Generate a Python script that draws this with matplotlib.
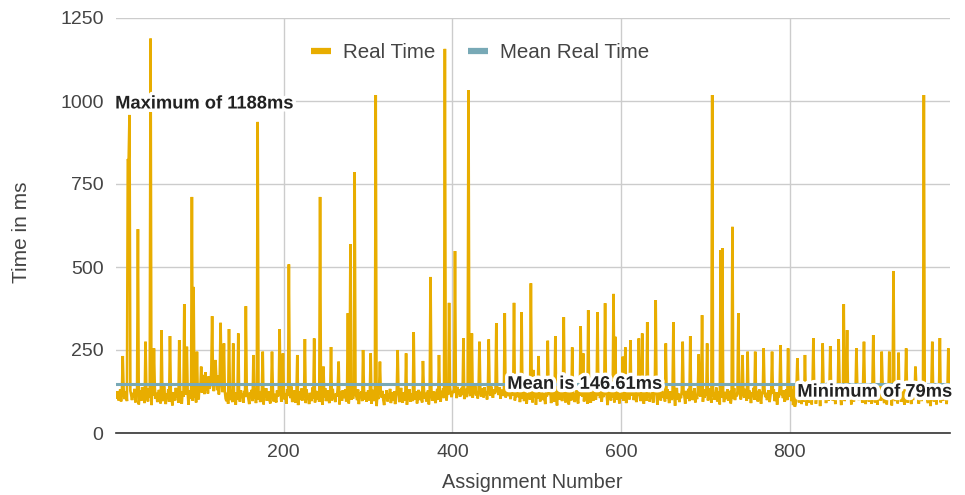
import numpy as np
import matplotlib
matplotlib.use("Agg")
import matplotlib.pyplot as plt
import matplotlib.patheffects as pe
from matplotlib.lines import Line2D

plt.rcParams['font.family'] = ['Liberation Sans', 'DejaVu Sans']

# ---------------- data ----------------
# baseline real time (ms) per assignment, 1..990
base_time = [
    118, 104, 126, 98, 112, 131, 95, 120, 108, 135,
    102, 117, 124, 96, 140, 109, 88, 127, 115, 99,
    121, 106, 133, 92, 118, 125, 101, 86, 129, 113,
    97, 138, 110, 122, 90, 116, 128, 104, 95, 134,
    107, 119, 84, 126, 112, 99, 137, 103, 121, 93,
    115, 130, 101, 89, 124, 108, 96, 141, 111, 87,
    120, 105, 132, 94, 117, 127, 100, 83, 123, 110,
    98, 136, 106, 119, 91, 114, 129, 102, 88, 125,
    109, 95, 133, 116, 99, 122, 85, 128, 112, 104,
    138, 97, 118, 107, 131, 92, 124, 113, 101, 145,
    132, 168, 121, 175, 140, 117, 183, 128, 162, 119,
    171, 133, 145, 188, 114, 166, 126, 179, 131, 160,
    129, 174, 116, 163, 142, 185, 123, 150, 108, 127,
    104, 96, 121, 88, 110, 132, 99, 115, 93, 126,
    107, 118, 85, 123, 101, 137, 112, 94, 129, 106,
    119, 91, 127, 108, 98, 134, 116, 103, 87, 122,
    111, 130, 96, 117, 105, 125, 90, 139, 109, 100,
    124, 93, 114, 131, 102, 86, 120, 107, 135, 97,
    113, 126, 99, 89, 121, 108, 133, 95, 118, 104,
    92, 128, 110, 123, 100, 136, 94, 115, 106, 127,
    101, 119, 88, 132, 111, 97, 125, 105, 140, 93,
    116, 103, 129, 91, 120, 109, 84, 126, 112, 99,
    134, 98, 117, 106, 123, 90, 131, 102, 114, 87,
    121, 108, 96, 137, 104, 118, 92, 127, 110, 100,
    125, 94, 113, 130, 99, 85, 122, 107, 135, 96,
    111, 128, 102, 90, 119, 124, 98, 133, 106, 115,
    93, 120, 109, 138, 101, 86, 126, 112, 97, 129,
    105, 117, 132, 95, 122, 108, 89, 127, 114, 100,
    136, 103, 118, 92, 124, 110, 99, 131, 87, 121,
    107, 126, 96, 115, 134, 101, 123, 94, 112, 128,
    98, 119, 105, 88, 130, 113, 96, 124, 109, 81,
    117, 102, 135, 92, 121, 107, 127, 99, 84, 116,
    110, 129, 95, 118, 104, 133, 90, 122, 106, 97,
    125, 87, 114, 131, 100, 119, 93, 108, 136, 103,
    91, 123, 111, 98, 127, 85, 116, 105, 132, 94,
    120, 108, 96, 134, 113, 101, 126, 89, 117, 130,
    99, 115, 124, 92, 110, 137, 104, 121, 95, 112,
    128, 86, 119, 106, 131, 97, 114, 125, 102, 90,
    118, 133, 100, 109, 122, 94, 127, 111, 135, 105,
    113, 124, 98, 130, 116, 103, 138, 119, 108, 126,
    121, 134, 112, 128, 105, 139, 117, 131, 109, 125,
    136, 114, 127, 102, 133, 120, 108, 142, 116, 129,
    111, 137, 123, 106, 130, 118, 141, 113, 126, 104,
    132, 119, 128, 110, 135, 122, 107, 138, 115, 124,
    101, 129, 117, 133, 112, 140, 120, 106, 131, 118,
    127, 109, 134, 121, 115, 138, 103, 125, 130, 112,
    119, 136, 107, 128, 122, 111, 139, 116, 102, 133,
    124, 113, 129, 98, 120, 135, 108, 117, 126, 93,
    115, 131, 104, 122, 96, 127, 110, 88, 119, 106,
    125, 100, 114, 132, 92, 118, 107, 129, 85, 121,
    103, 116, 128, 95, 112, 134, 99, 120, 108, 87,
    126, 110, 97, 123, 115, 131, 90, 118, 104, 136,
    94, 121, 109, 83, 127, 113, 100, 124, 117, 96,
    130, 105, 119, 92, 114, 128, 101, 86, 122, 111,
    98, 133, 107, 120, 93, 116, 129, 104, 89, 125,
    112, 99, 127, 110, 135, 95, 118, 106, 123, 88,
    117, 131, 102, 91, 124, 109, 97, 130, 114, 100,
    122, 86, 113, 128, 105, 119, 94, 126, 108, 132,
    96, 120, 111, 84, 129, 103, 117, 98, 134, 107,
    125, 92, 115, 121, 100, 137, 110, 89, 119, 104,
    128, 106, 97, 123, 114, 90, 131, 108, 118, 101,
    87, 124, 112, 135, 99, 116, 127, 93, 109, 120,
    105, 133, 96, 118, 125, 102, 88, 129, 111, 97,
    122, 108, 136, 94, 115, 104, 126, 91, 119, 130,
    100, 117, 85, 127, 110, 121, 98, 134, 106, 113,
    124, 95, 118, 103, 132, 109, 90, 125, 116, 99,
    128, 107, 114, 82, 121, 136, 101, 119, 93, 111,
    105, 130, 97, 123, 112, 88, 127, 104, 118, 133,
    96, 115, 108, 126, 99, 120, 135, 92, 113, 102,
    129, 87, 117, 110, 124, 101, 94, 131, 106, 119,
    112, 125, 98, 134, 104, 116, 91, 128, 109, 122,
    100, 119, 137, 95, 113, 126, 86, 121, 107, 130,
    118, 93, 111, 124, 102, 132, 97, 115, 127, 89,
    108, 120, 103, 135, 99, 117, 110, 126, 94, 123,
    114, 101, 129, 92, 118, 106, 133, 112, 97, 125,
    103, 128, 116, 90, 122, 109, 136, 100, 119, 111,
    127, 95, 113, 131, 104, 88, 124, 117, 98, 134,
    108, 121, 99, 115, 129, 93, 112, 126, 102, 118,
    132, 96, 110, 123, 85, 119, 107, 137, 101, 114,
    120, 105, 128, 94, 116, 131, 99, 111, 125, 110,
    142, 96, 131, 84, 148, 79, 89, 137, 101, 152,
    92, 126, 145, 87, 118, 139, 95, 150, 104, 83,
    134, 113, 91, 147, 122, 86, 141, 99, 128, 153,
    88, 119, 144, 102, 135, 81, 149, 116, 94, 138,
    107, 146, 90, 124, 151, 97, 133, 85, 143, 112,
    98, 140, 121, 87, 148, 106, 132, 93, 155, 115,
    84, 137, 109, 145, 96, 127, 150, 89, 118, 142,
    103, 131, 86, 149, 114, 95, 139, 125, 82, 147,
    120, 99, 144, 108, 136, 91, 153, 111, 129, 87,
    141, 105, 124, 94, 150, 117, 88, 138, 101, 146,
    92, 133, 119, 85, 147, 110, 140, 97, 126, 151,
    108, 90, 143, 122, 86, 135, 114, 149, 100, 128,
    83, 145, 107, 131, 96, 152, 118, 89, 139, 104,
    137, 94, 126, 148, 102, 85, 141, 115, 130, 91,
    150, 109, 121, 87, 144, 99, 134, 112, 93, 146,
    105, 138, 88, 127, 153, 96, 119, 142, 84, 131,
    113, 147, 100, 90, 136, 124, 81, 149, 108, 127,
    95, 140, 117, 86, 145, 103, 132, 150, 92, 121,
    139, 98, 126, 110, 148, 87, 135, 116, 102, 144,
]

# spikes: assignment number -> real time (ms)
spike_assignment = [
    9, 15, 16, 17, 27, 36, 42, 46, 55, 65, 76, 82, 85, 91, 93, 97, 102,
    115, 119, 125, 129, 135, 140, 146, 155, 164, 169, 175, 186, 195, 199,
    206, 216, 225, 236, 243, 247, 256, 265, 276, 279, 284, 294, 303, 309,
    314, 335, 345, 354, 365, 374, 384, 391, 396, 403, 413, 419, 423, 432,
    443, 452, 462, 473, 482, 493, 496, 502, 513, 522, 532, 542, 552, 555,
    561, 572, 581, 591, 593, 602, 605, 611, 621, 625, 631, 641, 653, 662,
    673, 682, 692, 696, 702, 708, 718, 720, 732, 739, 744, 750, 759, 769,
    779, 789, 798, 809, 818, 828, 839, 848, 858, 864, 868, 879, 888, 899,
    909, 918, 923, 929, 938, 949, 959, 969, 978, 988,
]
spike_time = [
    232, 825, 820, 958, 614, 275, 1188, 255, 310, 292, 280, 388, 260, 711, 440, 245, 200,
    352, 220, 332, 270, 313, 270, 300, 382, 235, 937, 245, 245, 313, 240,
    508, 235, 283, 285, 711, 200, 259, 215, 361, 569, 786, 250, 240, 1018,
    215, 250, 240, 304, 217, 470, 235, 1157, 392, 548, 286, 1033, 300, 275,
    282, 331, 361, 392, 364, 451, 190, 232, 278, 292, 349, 258, 322, 240,
    370, 364, 391, 419, 290, 230, 258, 280, 285, 300, 334, 400, 270, 334,
    275, 292, 237, 355, 270, 1018, 551, 557, 621, 361, 235, 245, 245, 255,
    245, 265, 255, 225, 235, 286, 270, 262, 283, 388, 310, 255, 275, 295,
    245, 245, 488, 242, 255, 200, 1018, 275, 286, 255,
]

mean_time = 146.61
max_time = 1188
min_time = 79

series_names = ["Real Time", "Mean Real Time"]
y_ticks = [0, 250, 500, 750, 1000, 1250]
x_ticks = [200, 400, 600, 800]

# ---------------- assemble ----------------
real_time = np.array(base_time, dtype=float)
for a, v in zip(spike_assignment, spike_time):
    if 1 <= a <= len(real_time):
        real_time[a - 1] = v
assignment = np.arange(1, len(real_time) + 1)

YELLOW = '#E8AD00'
TEAL = '#78A9B6'
GRID = '#CCCCCC'
TXT = '#444444'

fig = plt.figure(figsize=(9.65, 4.95), dpi=100)
ax = fig.add_axes([116 / 965, 1 - 433 / 495, (950 - 116) / 965, (433 - 18) / 495])

ax.plot(assignment, real_time, color=YELLOW, lw=1.9, zorder=3, solid_joinstyle='miter')
ax.plot([assignment[0], assignment[-1]], [mean_time, mean_time], color=TEAL, lw=2.2, zorder=4)

ax.set_xlim(assignment[0], assignment[-1])
ax.set_ylim(0, 1250)
ax.set_yticks(y_ticks)
ax.set_yticklabels([str(v) for v in y_ticks])
ax.set_xticks(x_ticks)
ax.set_xticklabels([str(v) for v in x_ticks])
ax.tick_params(axis='both', length=0, labelsize=14, labelcolor=TXT)
ax.tick_params(axis='y', pad=9)
ax.tick_params(axis='x', pad=8)
ax.grid(True, color=GRID, lw=1, zorder=0)
ax.set_axisbelow(True)
for s in ['top', 'right', 'left']:
    ax.spines[s].set_visible(False)
ax.spines['bottom'].set_color('#333333')
ax.spines['bottom'].set_linewidth(1.2)
ax.spines['bottom'].set_zorder(5)

fig.text(532 / 965, 1 - 483 / 495, "Assignment Number", ha='center', va='center',
         fontsize=14.3, color=TXT)
fig.text(22 / 965, 1 - 232 / 495, "Time in ms", ha='center', va='center',
         rotation=90, fontsize=15, color=TXT)

halo = [pe.withStroke(linewidth=5, foreground='white')]
lab_kw = dict(fontsize=13.2, fontweight='bold', color='#222222', zorder=6,
              path_effects=halo, va='center', ha='left')
ax.text(0.0, 991, f"Maximum of {max_time}ms", **lab_kw)
ax.text(465, mean_time, f"Mean is {mean_time:.2f}ms", **lab_kw)
ax.text(809, 123, f"Minimum of {min_time}ms", **lab_kw)

handles = [Line2D([], [], color=YELLOW, lw=4.5, solid_capstyle='butt'),
           Line2D([], [], color=TEAL, lw=4.5, solid_capstyle='butt')]
fig.legend(handles, series_names, loc='center', bbox_to_anchor=(480 / 965, 1 - 53 / 495),
           ncol=2, frameon=False, fontsize=14.8, labelcolor=TXT, handlelength=0.95,
           handletextpad=0.6, columnspacing=1.6)

fig.savefig('out.png', dpi=100)
